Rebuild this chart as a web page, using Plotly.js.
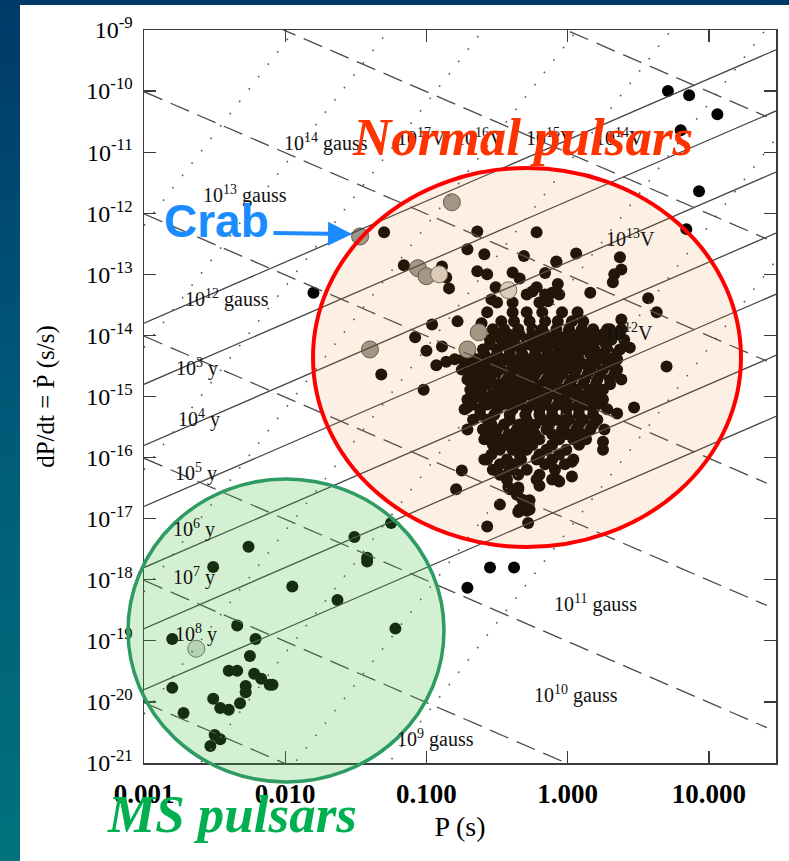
<!DOCTYPE html>
<html>
<head>
<meta charset="utf-8">
<script src="https://cdn.plot.ly/plotly-3.0.1.min.js"></script>
<style>
  html, body { margin: 0; padding: 0; }
  body {
    width: 789px; height: 861px; overflow: hidden; position: relative;
    background: linear-gradient(to bottom, #003a68 0%, #005a78 50%, #00727c 100%);
  }
  #panel { position: absolute; left: 20px; top: 5px; right: 0; bottom: 0; background: #ffffff; }
  #chart { position: absolute; left: 0; top: 0; width: 789px; height: 861px; }
</style>
</head>
<body>
<div id="panel"></div>
<div id="chart"></div>
<script>
// ---- Axis ticks ----------------------------------------------------------
const periodTicks = [0.001, 0.01, 0.1, 1, 10];
const periodTickText = ['0.001', '0.010', '0.100', '1.000', '10.000'];
const pdotTickExp = [-21, -20, -19, -18, -17, -16, -15, -14, -13, -12, -11, -10, -9];

// ---- Reference lines -----------------------------------------------------
// surface dipole field B = 3.2e19 sqrt(P Pdot) gauss
const fieldGauss = [1e8, 1e9, 1e10, 1e11, 1e12, 1e13, 1e14, 1e15];
// characteristic age tau = P / (2 Pdot), in years
const ageYears = [1e3, 1e4, 1e5, 1e6, 1e7, 1e8, 1e9];
// polar-cap potential drop, in volts
const potentialVolts = [1e11, 1e12, 1e13, 1e14, 1e15, 1e16, 1e17, 1e18];

// ---- Pulsars: [log10 P (s), log10 Pdot (s/s)] ----------------------------
// isolated radio pulsars away from the dense core
const normalPulsars = [
  [-1.80,-13.30],[-1.30,-12.31],[0.71,-10.00],[0.86,-10.07],[1.06,-10.38],[0.80,-10.64],
  [0.93,-11.64],[0.84,-12.26],[-0.55,-17.80],[-0.38,-17.80],[-0.71,-18.13],
  [-0.64,-12.30],[-0.22,-12.31],[-0.71,-12.59],[-0.59,-12.67],[-0.31,-12.70],[-0.08,-12.79],
  [0.06,-12.66],[0.37,-12.72],[-1.16,-12.85],[-0.89,-12.87],[-0.86,-13.05],[-0.84,-13.23],
  [-0.64,-12.95],[-0.57,-13.00],[-0.39,-12.97],[-0.16,-12.98],[-0.08,-12.80],[0.33,-13.00],
  [0.38,-12.92],[0.32,-13.13],[-0.51,-13.21],[-0.25,-13.28],[-0.07,-13.16],[-0.11,-13.30],
  [-0.14,-13.44],[0.16,-13.30],[0.57,-13.39],[0.63,-13.62],[-0.54,-13.41],[-0.50,-13.46],
  [-0.57,-13.62],[-0.78,-13.77],[-0.96,-13.82],[-0.61,-13.80],[-1.08,-14.03],[-1.00,-14.25],
  [-0.89,-14.18],[-0.86,-14.43],[-0.80,-14.39],[-0.93,-14.49],[-1.32,-14.64],[-1.02,-14.89],
  [-0.59,-14.51],[0.70,-14.51],[0.47,-15.18],[0.35,-15.28],[0.44,-14.20],[0.38,-13.74],
  [0.28,-13.90],[-0.75,-16.21],[-0.79,-16.52],[-0.71,-15.18],[-0.71,-15.54],[-0.59,-15.70],
  [-0.57,-16.03],[-0.48,-16.77],[-0.57,-17.13],[-0.41,-16.52],[-0.34,-16.85],[-0.28,-17.07],
  [-0.27,-16.70],[-0.20,-16.46],[-0.11,-16.36],[0.03,-16.31],[0.03,-16.07],[0.25,-15.74],
  [0.25,-15.87],[-0.35,-16.49],[-0.42,-16.48],[-0.36,-16.61],[-0.35,-16.89],[-0.29,-16.87],
  [-0.06,-16.39],[-0.34,-13.07]
];
// dense core of the normal population, listed row by row (log10 Pdot, then log10 P values)
const coreRowPdot = [-13.21,-13.33,-13.46,-13.62,-13.77,-13.90,-14.07,-14.23,-14.39,-14.56,-14.72,
  -14.89,-15.05,-15.21,-15.38,-15.54,-15.70,-15.87,-16.03,-16.20,-16.36,-16.52,-16.69,-16.85,
  -13.98,-14.15,-14.31,-14.48,-14.64,-14.80,-14.97,-15.13,-15.30,-15.46,-15.62,
  -15.79,-15.95,-16.11,-16.28];
const coreRowPeriods = [
  [-0.22],
  [-0.29,-0.16,-0.06],
  [-0.39,-0.20],
  [-0.39,-0.29,-0.18,-0.04,0.07],
  [-0.47,-0.38,-0.27,-0.16,-0.07,0.03,0.11],
  [-0.53,-0.45,-0.35,-0.25,-0.18,-0.08,0.01,0.10,0.18,0.30,0.38],
  [-0.55,-0.47,-0.39,-0.29,-0.21,-0.13,-0.04,0.04,0.12,0.21,0.31,0.40],
  [-0.60,-0.50,-0.41,-0.33,-0.23,-0.15,-0.06,0.03,0.11,0.19,0.28,0.37],
  [-0.74,-0.64,-0.55,-0.45,-0.36,-0.27,-0.18,-0.08,0.00,0.08,0.18,0.28,0.35],
  [-0.75,-0.66,-0.57,-0.48,-0.39,-0.29,-0.20,-0.11,-0.02,0.06,0.16,0.25,0.35],
  [-0.71,-0.62,-0.53,-0.43,-0.34,-0.25,-0.15,-0.07,0.03,0.12,0.21,0.30,0.38],
  [-0.69,-0.60,-0.50,-0.41,-0.32,-0.22,-0.13,-0.04,0.06,0.16,0.25],
  [-0.71,-0.62,-0.52,-0.42,-0.33,-0.23,-0.15,-0.04,0.06,0.16,0.25],
  [-0.73,-0.62,-0.50,-0.39,-0.29,-0.20,-0.11,-0.01,0.08,0.18,0.28],
  [-0.67,-0.57,-0.41,-0.29,-0.18,-0.08,0.01,0.11,0.21],
  [-0.60,-0.50,-0.36,-0.27,-0.15,-0.04,0.06,0.16,0.26],
  [-0.57,-0.48,-0.39,-0.29,-0.20,-0.06,0.04,0.13],
  [-0.48,-0.39,-0.29,-0.15,-0.01],
  [-0.59,-0.43,-0.33,-0.22,-0.11,0.04],
  [-0.53,-0.41,-0.29,-0.09],
  [-0.43,-0.22,-0.08],
  [-0.35],
  [-0.32],
  [-0.27],
  [-0.51,-0.42,-0.34,-0.25,-0.16,-0.08,0.00,0.08,0.17,0.25,0.34],
  [-0.55,-0.46,-0.37,-0.27,-0.18,-0.08,0.00,0.08,0.18,0.27],
  [-0.69,-0.59,-0.50,-0.41,-0.32,-0.23,-0.13,-0.04,0.06,0.16,0.24,0.33],
  [-0.69,-0.60,-0.51,-0.41,-0.33,-0.23,-0.14,-0.05,0.04,0.13,0.23,0.31],
  [-0.69,-0.60,-0.51,-0.41,-0.32,-0.23,-0.13,-0.04,0.05,0.14,0.23,0.33],
  [-0.66,-0.57,-0.47,-0.37,-0.27,-0.18,-0.08,0.01,0.11,0.20,0.30],
  [-0.66,-0.56,-0.47,-0.37,-0.27,-0.18,-0.08,0.01,0.11,0.21],
  [-0.67,-0.57,-0.46,-0.35,-0.25,-0.16,-0.07,0.03,0.13,0.21],
  [-0.62,-0.52,-0.41,-0.30,-0.20,-0.11,-0.01,0.08,0.18],
  [-0.54,-0.45,-0.34,-0.23,-0.13,-0.02,0.08,0.18],
  [-0.54,-0.42,-0.33,-0.23,-0.11,0.00,0.10],
  [-0.53,-0.43,-0.34,-0.25,-0.11,0.08],
  [-0.54,-0.34,-0.20,-0.06],
  [-0.48,-0.38,-0.16,-0.02],
  [-0.48,-0.35,-0.20]
];
// young pulsars with supernova-remnant associations (Crab first)
const snrPulsars = [[-1.47,-12.38],[-0.82,-11.82],[-1.06,-12.90],[-1.00,-13.03],[-1.40,-14.23],[-0.63,-13.95],[-0.71,-14.23]];
const snrPulsarsPale = [[-0.91,-13.00],[-0.42,-13.26]];
// millisecond pulsars
const msPulsars = [
  [-2.26,-17.46],[-2.51,-17.79],[-1.95,-18.11],[-1.63,-18.33],[-1.51,-17.30],[-1.42,-17.64],
  [-1.42,-17.70],[-1.25,-17.07],[-1.22,-18.80],[-2.80,-18.97],[-2.34,-18.75],[-2.21,-18.97],
  [-2.25,-19.25],[-2.40,-19.49],[-2.34,-19.49],[-2.22,-19.54],[-2.17,-19.62],[-2.28,-19.74],
  [-2.28,-19.84],[-2.11,-19.72],[-2.09,-19.72],[-2.80,-19.77],[-2.51,-19.95],[-2.46,-20.10],
  [-2.40,-20.13],[-2.32,-20.02],[-2.72,-20.18],[-2.50,-20.54],[-2.46,-20.61],[-2.53,-20.72]
];
const msPulsarsPale = [[-2.63,-19.13]];

// ---- Build traces --------------------------------------------------------
const pow10 = v => Math.pow(10, v);
const xRangeLog = [-3, 1.475];
const yRangeLog = [-21, -9];

function pointTrace(pairs, marker) {
  return {
    type: 'scatter', mode: 'markers', hoverinfo: 'skip',
    x: pairs.map(p => pow10(p[0])), y: pairs.map(p => pow10(p[1])),
    marker: marker, cliponaxis: true
  };
}

const corePairs = [];
coreRowPdot.forEach((pd, i) => coreRowPeriods[i].forEach(lp => corePairs.push([lp, pd])));

function familyTrace(values, pdotOf, pStart, pEnd, line) {
  const x = [], y = [];
  values.forEach(v => { x.push(pStart, pEnd, null); y.push(pdotOf(pStart, v), pdotOf(pEnd, v), null); });
  return { type: 'scatter', mode: 'lines', hoverinfo: 'skip', x: x, y: y, line: line };
}

const pMin = pow10(xRangeLog[0]), pMax = pow10(xRangeLog[1]);
const dotMarker = { size: 12, color: '#060402', line: { width: 0 } };

const traces = [
  pointTrace(normalPulsars, dotMarker),
  pointTrace(corePairs, dotMarker),
  pointTrace(msPulsars, dotMarker),
  pointTrace(snrPulsars, { size: 17, color: '#9c9890', line: { color: '#56524c', width: 1 } }),
  pointTrace(snrPulsarsPale, { size: 17, color: '#d8d4cc', line: { color: '#6e6a63', width: 1 } }),
  pointTrace(msPulsarsPale, { size: 17, color: '#d8d8d8', line: { color: '#6e6e6e', width: 1 } }),
  familyTrace(ageYears, (p, t) => p / (2 * t * 3.156e7), pMin, pMax,
    { color: '#454545', width: 1.3 }),
  familyTrace(fieldGauss, (p, b) => Math.pow(b / 3.2e19, 2) / p, pMin, pow10(1.41),
    { color: '#4a4a4a', width: 1.3, dash: '20px,9px' }),
  familyTrace(potentialVolts, (p, v) => Math.pow(p, 3) * Math.pow(v / 3.98e19, 2), pMin, pMax,
    { color: '#555555', width: 1.6, dash: '1.6px,14px' })
];

// ---- Layout helpers (page pixels to paper fractions) ----------------------
const M = { l: 144, r: 13, t: 30, b: 98 };
const W = 789, H = 861;
const xp = px => (px - M.l) / (W - M.l - M.r);
const yp = py => (H - M.b - py) / (H - M.t - M.b);

const serif = 'Liberation Serif, Times New Roman, serif';
const sup = v => '10<sup>' + Math.round(Math.log10(v)) + '</sup>';
const labelFont = { family: serif, size: 20, color: '#111111' };

// line labels: [value, page x, page y]
const fieldLabelAt = [[1e14, 326, 142], [1e13, 245, 194], [1e12, 227, 298], [1e11, 595, 603], [1e10, 576, 694], [1e9, 435, 738]];
const ageLabelAt = [[1e3, 197, 367], [1e4, 199, 418], [1e5, 196, 472], [1e6, 194, 528], [1e7, 194, 576], [1e8, 196, 633]];
const voltLabelAt = [[1e17, 421, 137], [1e16, 480, 137], [1e15, 550, 137], [1e14, 619, 137], [1e13, 630, 238], [1e12, 628, 332]];

function textAnn(text, px, py, font) {
  return { xref: 'paper', yref: 'paper', x: xp(px), y: yp(py), xanchor: 'center', yanchor: 'middle',
           text: text, showarrow: false, font: font };
}

const annotations = [];
fieldLabelAt.forEach(a => annotations.push(textAnn(sup(a[0]) + ' gauss', a[1], a[2], labelFont)));
ageLabelAt.forEach(a => annotations.push(textAnn(sup(a[0]) + ' y', a[1], a[2], labelFont)));
voltLabelAt.forEach(a => annotations.push(textAnn(sup(a[0]) + 'V', a[1], a[2], labelFont)));

// Crab pointer
annotations.push({ xref: 'paper', yref: 'paper', x: xp(352), y: yp(234), ax: -80, ay: -1,
  text: '', showarrow: true, arrowhead: 2, arrowsize: 1.2, arrowwidth: 4, arrowcolor: '#1a8cff', standoff: 0 });
annotations.push(textAnn('Crab', 216, 221, { family: 'Liberation Sans, Arial, sans-serif', size: 46, color: '#1a8cff', weight: 'bold' }));
annotations.push(textAnn('<i>Normal pulsars</i>', 522, 137, { family: serif, size: 53, color: '#ff3300', weight: 'bold' }));
annotations.push(textAnn('<i>MS pulsars</i>', 232, 814, { family: serif, size: 53, color: '#00b050', weight: 'bold' }));

// population regions
const shapes = [
  { type: 'circle', xref: 'paper', yref: 'paper', layer: 'above',
    x0: xp(313), x1: xp(741), y0: yp(547), y1: yp(168),
    fillcolor: 'rgba(230,140,46,0.13)', line: { color: '#ff0000', width: 4 } },
  { type: 'circle', xref: 'paper', yref: 'paper', layer: 'above',
    x0: xp(128), x1: xp(444), y0: yp(782), y1: yp(479),
    fillcolor: 'rgba(64,190,64,0.23)', line: { color: '#2e9b63', width: 3.5 } }
];

const axisCommon = {
  type: 'log', showgrid: false, zeroline: false,
  showline: true, mirror: 'ticks', linecolor: '#3a3a3a', linewidth: 1.5,
  ticks: 'inside', ticklen: 12, tickwidth: 1.3, tickcolor: '#3a3a3a', automargin: false
};

const layout = {
  width: W, height: H, margin: M,
  paper_bgcolor: 'rgba(0,0,0,0)', plot_bgcolor: 'rgba(0,0,0,0)',
  showlegend: false, hovermode: false,
  font: { family: serif, color: '#000' },
  xaxis: Object.assign({}, axisCommon, {
    range: xRangeLog, tickvals: periodTicks, ticktext: periodTickText,
    tickfont: { family: serif, size: 27, color: '#000', weight: 'bold' },
    ticklabelstandoff: 6,
    title: { text: 'P (s)', font: { family: serif, size: 28, color: '#000' }, standoff: 8 }
  }),
  yaxis: Object.assign({}, axisCommon, {
    range: yRangeLog, tickvals: pdotTickExp.map(pow10),
    ticktext: pdotTickExp.map(e => '10<sup>' + e + '</sup>'),
    tickfont: { family: serif, size: 24, color: '#000' },
    ticklabelstandoff: 5,
    title: { text: 'dP/dt = Ṗ (s/s)', font: { family: serif, size: 25, color: '#000' }, standoff: 24 }
  }),
  shapes: shapes,
  annotations: annotations
};

Plotly.newPlot('chart', traces, layout, { staticPlot: true, displayModeBar: false });
</script>
</body>
</html>
